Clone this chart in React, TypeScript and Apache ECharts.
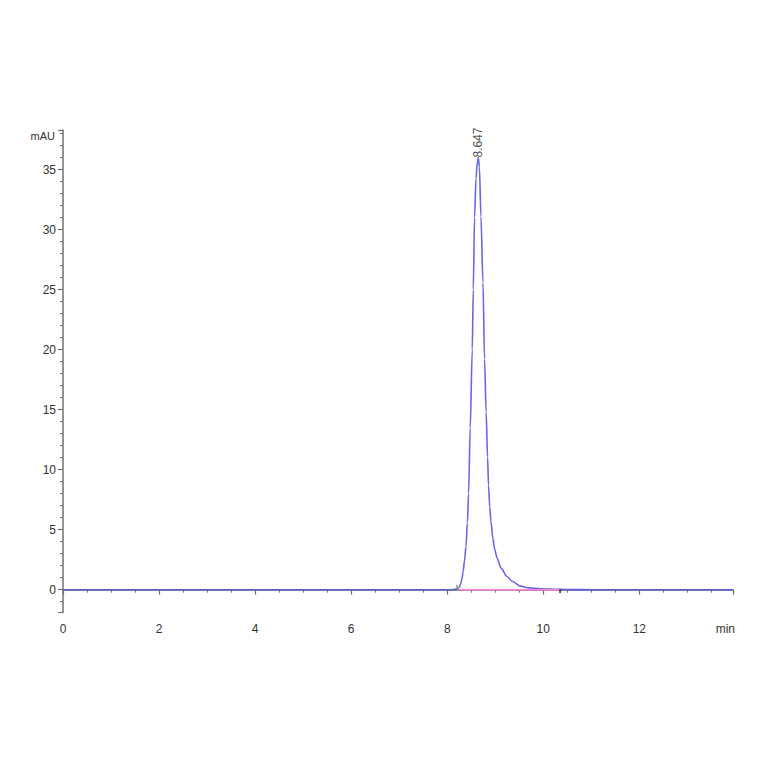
import { useEffect, useRef } from 'react';
import * as echarts from 'echarts';

// chromatogram trace (min, mAU)
const retentionTimes = [
  0, 1, 2, 3, 4, 5, 6, 7, 7.5, 8, 8.1, 8.2, 8.25, 8.28, 8.306, 8.33, 8.36, 8.39, 8.42, 8.444,
  8.479, 8.521, 8.542, 8.569, 8.6, 8.625, 8.647, 8.67, 8.702, 8.744, 8.777, 8.81, 8.84, 8.86,
  8.885, 8.91, 8.95, 8.985, 9.04, 9.12, 9.244, 9.35, 9.521, 9.7, 9.94, 10.35, 10.6, 11, 12, 13, 13.95,
];
const absorbance = [
  0, 0, 0, 0, 0, 0, 0, 0, 0, 0, 0, 0.05, 0.2, 0.5, 0.9, 1.5, 2.4, 3.6, 5.6, 8.0,
  13.5, 20.0, 25.0, 31.0, 34.3, 35.6, 36.0, 35.2, 31.1, 25.6, 19.2, 14.8, 11.0, 8.7,
  6.9, 5.7, 4.3, 3.4, 2.6, 1.8, 1.1, 0.7, 0.3, 0.15, 0.08, 0.03, 0.01, 0, 0, 0, 0,
];

// integration baseline and its start / end marks
const baselineTimes = [8.25, 10.35];
const baselineValues = [0, 0];
const markerTimes = [8.2, 10.35];
const markerValues = [0.25, -0.12];
const markerColors = ['#a8a040', '#333333'];

const peakTime = 8.647;
const peakHeight = 36.0;
const peakLabel = '8.647';

const axisGray = '#707070';

const App = () => {
  const chartRef = useRef<HTMLDivElement>(null);

  useEffect(() => {
    if (!chartRef.current) return;
    const chart = echarts.init(chartRef.current, undefined, { renderer: 'svg' });
    const option: echarts.EChartsOption = {
      animation: false,
      textStyle: { fontFamily: 'Liberation Sans, Arial, sans-serif' },
      grid: { left: 63, right: 31, top: 130, bottom: 151.5 },
      graphic: [
        {
          type: 'text',
          right: 29,
          top: 623,
          style: { text: 'min', fill: '#333', fontSize: 12, fontFamily: 'Liberation Sans, Arial, sans-serif' },
        },
      ],
      xAxis: {
        type: 'value',
        min: 0,
        max: 13.95,
        interval: 2,
        axisLine: { lineStyle: { color: axisGray, width: 1.5 } },
        axisTick: { length: 5, lineStyle: { color: axisGray, width: 1.2 } },
        minorTick: { show: true, splitNumber: 4, length: 3, lineStyle: { color: axisGray, width: 1 } },
        axisLabel: { color: '#333', fontSize: 12, margin: 10, showMaxLabel: false },
        splitLine: { show: false },
      },
      yAxis: {
        type: 'value',
        min: -1.9,
        max: 38.3,
        splitNumber: 8,
        name: 'mAU',
        nameLocation: 'end',
        nameGap: -6,
        nameTextStyle: { color: '#333', fontSize: 11, align: 'right', verticalAlign: 'middle', padding: [0, 8, 0, 0] },
        axisLine: { show: true, lineStyle: { color: axisGray, width: 1.5 } },
        axisTick: { show: true, length: 5, lineStyle: { color: axisGray, width: 1.2 } },
        minorTick: { show: true, splitNumber: 5, length: 3, lineStyle: { color: axisGray, width: 1 } },
        axisLabel: { color: '#333', fontSize: 12, margin: 7, showMinLabel: false, showMaxLabel: false },
        splitLine: { show: false },
      },
      series: [
        {
          type: 'line',
          name: 'signal',
          data: retentionTimes.map((t, i) => [t, absorbance[i]]),
          showSymbol: false,
          smooth: 0.3,
          smoothMonotone: 'x',
          lineStyle: { color: '#5656e6', width: 1.6, opacity: 0.9 },
          z: 2,
        },
        {
          type: 'line',
          name: 'baseline',
          data: baselineTimes.map((t, i) => [t, baselineValues[i]]),
          showSymbol: false,
          lineStyle: { color: '#ff80dc', width: 1.5 },
          z: 3,
        },
        {
          type: 'scatter',
          name: 'marks',
          symbol: 'rect',
          symbolSize: [2, 4],
          data: markerTimes.map((t, i) => ({
            value: [t, markerValues[i]],
            itemStyle: { color: markerColors[i] },
          })),
          z: 4,
        },
        {
          type: 'scatter',
          name: 'peak',
          symbolSize: 0,
          data: [[peakTime, peakHeight]],
          label: {
            show: true,
            formatter: peakLabel,
            position: 'top',
            distance: 0,
            rotate: 90,
            align: 'left',
            verticalAlign: 'middle',
            color: '#222',
            fontSize: 12,
          },
          z: 5,
        },
      ],
    };
    chart.setOption(option);
    return () => {
      chart.dispose();
    };
  }, []);

  return <div ref={chartRef} style={{ position: 'fixed', left: 0, top: 0, width: 764, height: 764, background: '#fff' }} />;
};

export default App;
